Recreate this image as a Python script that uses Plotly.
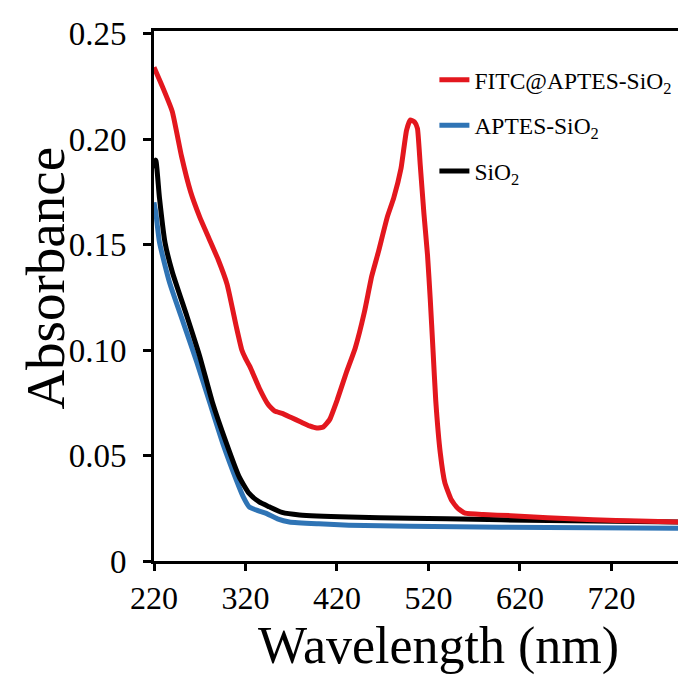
import plotly.graph_objects as go

# Wavelength (nm) and absorbance values
fitc_wl = [220, 230, 240, 250, 260, 270, 280, 290, 300, 310, 316, 320, 325, 335, 345, 352,
           360, 370, 380, 390, 398, 405, 412, 420, 430, 440, 450, 458, 465, 475, 482, 490,
           496, 500, 505, 508, 511, 515, 519, 522, 525, 528, 533, 538, 545, 552, 560, 580,
           610, 650, 700, 750, 795]
fitc_abs = [0.234, 0.224, 0.213, 0.192, 0.175, 0.163, 0.153, 0.143, 0.131, 0.111, 0.100, 0.096,
            0.092, 0.082, 0.074, 0.071, 0.070, 0.068, 0.066, 0.064, 0.063, 0.0635, 0.067, 0.076,
            0.089, 0.101, 0.118, 0.135, 0.146, 0.163, 0.172, 0.186, 0.204, 0.209, 0.208, 0.205,
            0.188, 0.165, 0.145, 0.124, 0.100, 0.076, 0.051, 0.037, 0.029, 0.025, 0.0227, 0.022,
            0.0215, 0.0205, 0.0195, 0.019, 0.0185]

aptes_wl = [220, 222, 226, 237, 252, 267, 281, 295, 310, 318, 324, 333, 342, 355, 368, 400,
            433, 500, 600, 700, 795]
aptes_abs = [0.170, 0.165, 0.151, 0.132, 0.113, 0.094, 0.075, 0.056, 0.0384, 0.030, 0.0257,
             0.0240, 0.0227, 0.020, 0.0185, 0.0176, 0.017, 0.0165, 0.016, 0.0158, 0.0155]

sio2_wl = [220, 222, 226, 232, 240, 256, 270, 284, 299, 313, 324, 335, 346, 360, 379, 433,
           500, 540, 600, 700, 795]
sio2_abs = [0.186, 0.190, 0.172, 0.151, 0.137, 0.116, 0.097, 0.075, 0.056, 0.040, 0.032,
            0.028, 0.0257, 0.023, 0.0218, 0.0208, 0.0203, 0.0200, 0.0195, 0.019, 0.0185]

x_ticks = [220, 320, 420, 520, 620, 720]
y_ticks = [0, 0.05, 0.10, 0.15, 0.20, 0.25]
y_ticktext = ["0", "0.05", "0.10", "0.15", "0.20", "0.25"]

RED = "#E3171E"
BLUE = "#2F74B5"
BLACK = "#000000"
FONT = "Liberation Serif"

fig = go.Figure()
fig.add_trace(go.Scatter(x=aptes_wl, y=aptes_abs, mode="lines", name="APTES-SiO<sub>2</sub>",
                         line=dict(color=BLUE, width=5, shape="spline", smoothing=0.5),
                         legendgroup="b", legendrank=2))
fig.add_trace(go.Scatter(x=sio2_wl, y=sio2_abs, mode="lines", name="SiO<sub>2</sub>",
                         line=dict(color=BLACK, width=5, shape="spline", smoothing=0.5),
                         legendgroup="c", legendrank=3))
fig.add_trace(go.Scatter(x=fitc_wl, y=fitc_abs, mode="lines", name="FITC@APTES-SiO<sub>2</sub>",
                         line=dict(color=RED, width=5, shape="spline", smoothing=0.4),
                         legendgroup="a", legendrank=1))

# The page body has an 8px default margin, so the figure is sized to fit inside it.
OFF = 8
W, H = 686 - OFF, 680 - OFF
L, T = 154 - OFF, 31 - OFF
R = W - (683 - OFF)
B = H - (561 - OFF)
pw = W - L - R
ph = H - T - B


def px_x(x):
    return (x - 154) / pw


def px_y(y):
    return (561 - y) / ph


fig.update_layout(
    width=W, height=H,
    margin=dict(l=L, r=R, t=T, b=B, pad=0),
    paper_bgcolor="white", plot_bgcolor="white",
    font=dict(family=FONT, color="black", size=32),
    showlegend=True,
    legend=dict(x=px_x(436), y=px_y(58), xanchor="left", yanchor="top",
                font=dict(family=FONT, size=23.5, color="black"),
                bgcolor="rgba(0,0,0,0)", tracegroupgap=12, itemwidth=30),
    xaxis=dict(range=[220, 795], tickvals=x_ticks, ticktext=[str(v) for v in x_ticks],
               showline=True, mirror=True, linecolor="black", linewidth=3,
               ticks="outside", ticklen=7, tickwidth=3, tickcolor="black",
               showgrid=False, zeroline=False, tickfont=dict(size=32)),
    yaxis=dict(range=[0, 0.2512], tickvals=y_ticks, ticktext=y_ticktext,
               showline=True, mirror=True, linecolor="black", linewidth=3,
               ticks="outside", ticklen=8, tickwidth=3, tickcolor="black",
               showgrid=False, zeroline=False, tickfont=dict(size=33),
               ticklabelstandoff=10),
    annotations=[
        dict(text="Wavelength (nm)", xref="paper", yref="paper",
             x=px_x(440), y=px_y(646), xanchor="center", yanchor="middle",
             showarrow=False, font=dict(family=FONT, size=52, color="black")),
        dict(text="Absorbance", xref="paper", yref="paper", textangle=-90,
             x=px_x(44), y=px_y(278), xanchor="center", yanchor="middle",
             showarrow=False, font=dict(family=FONT, size=55, color="black")),
    ],
)

fig.write_html("out.html")
